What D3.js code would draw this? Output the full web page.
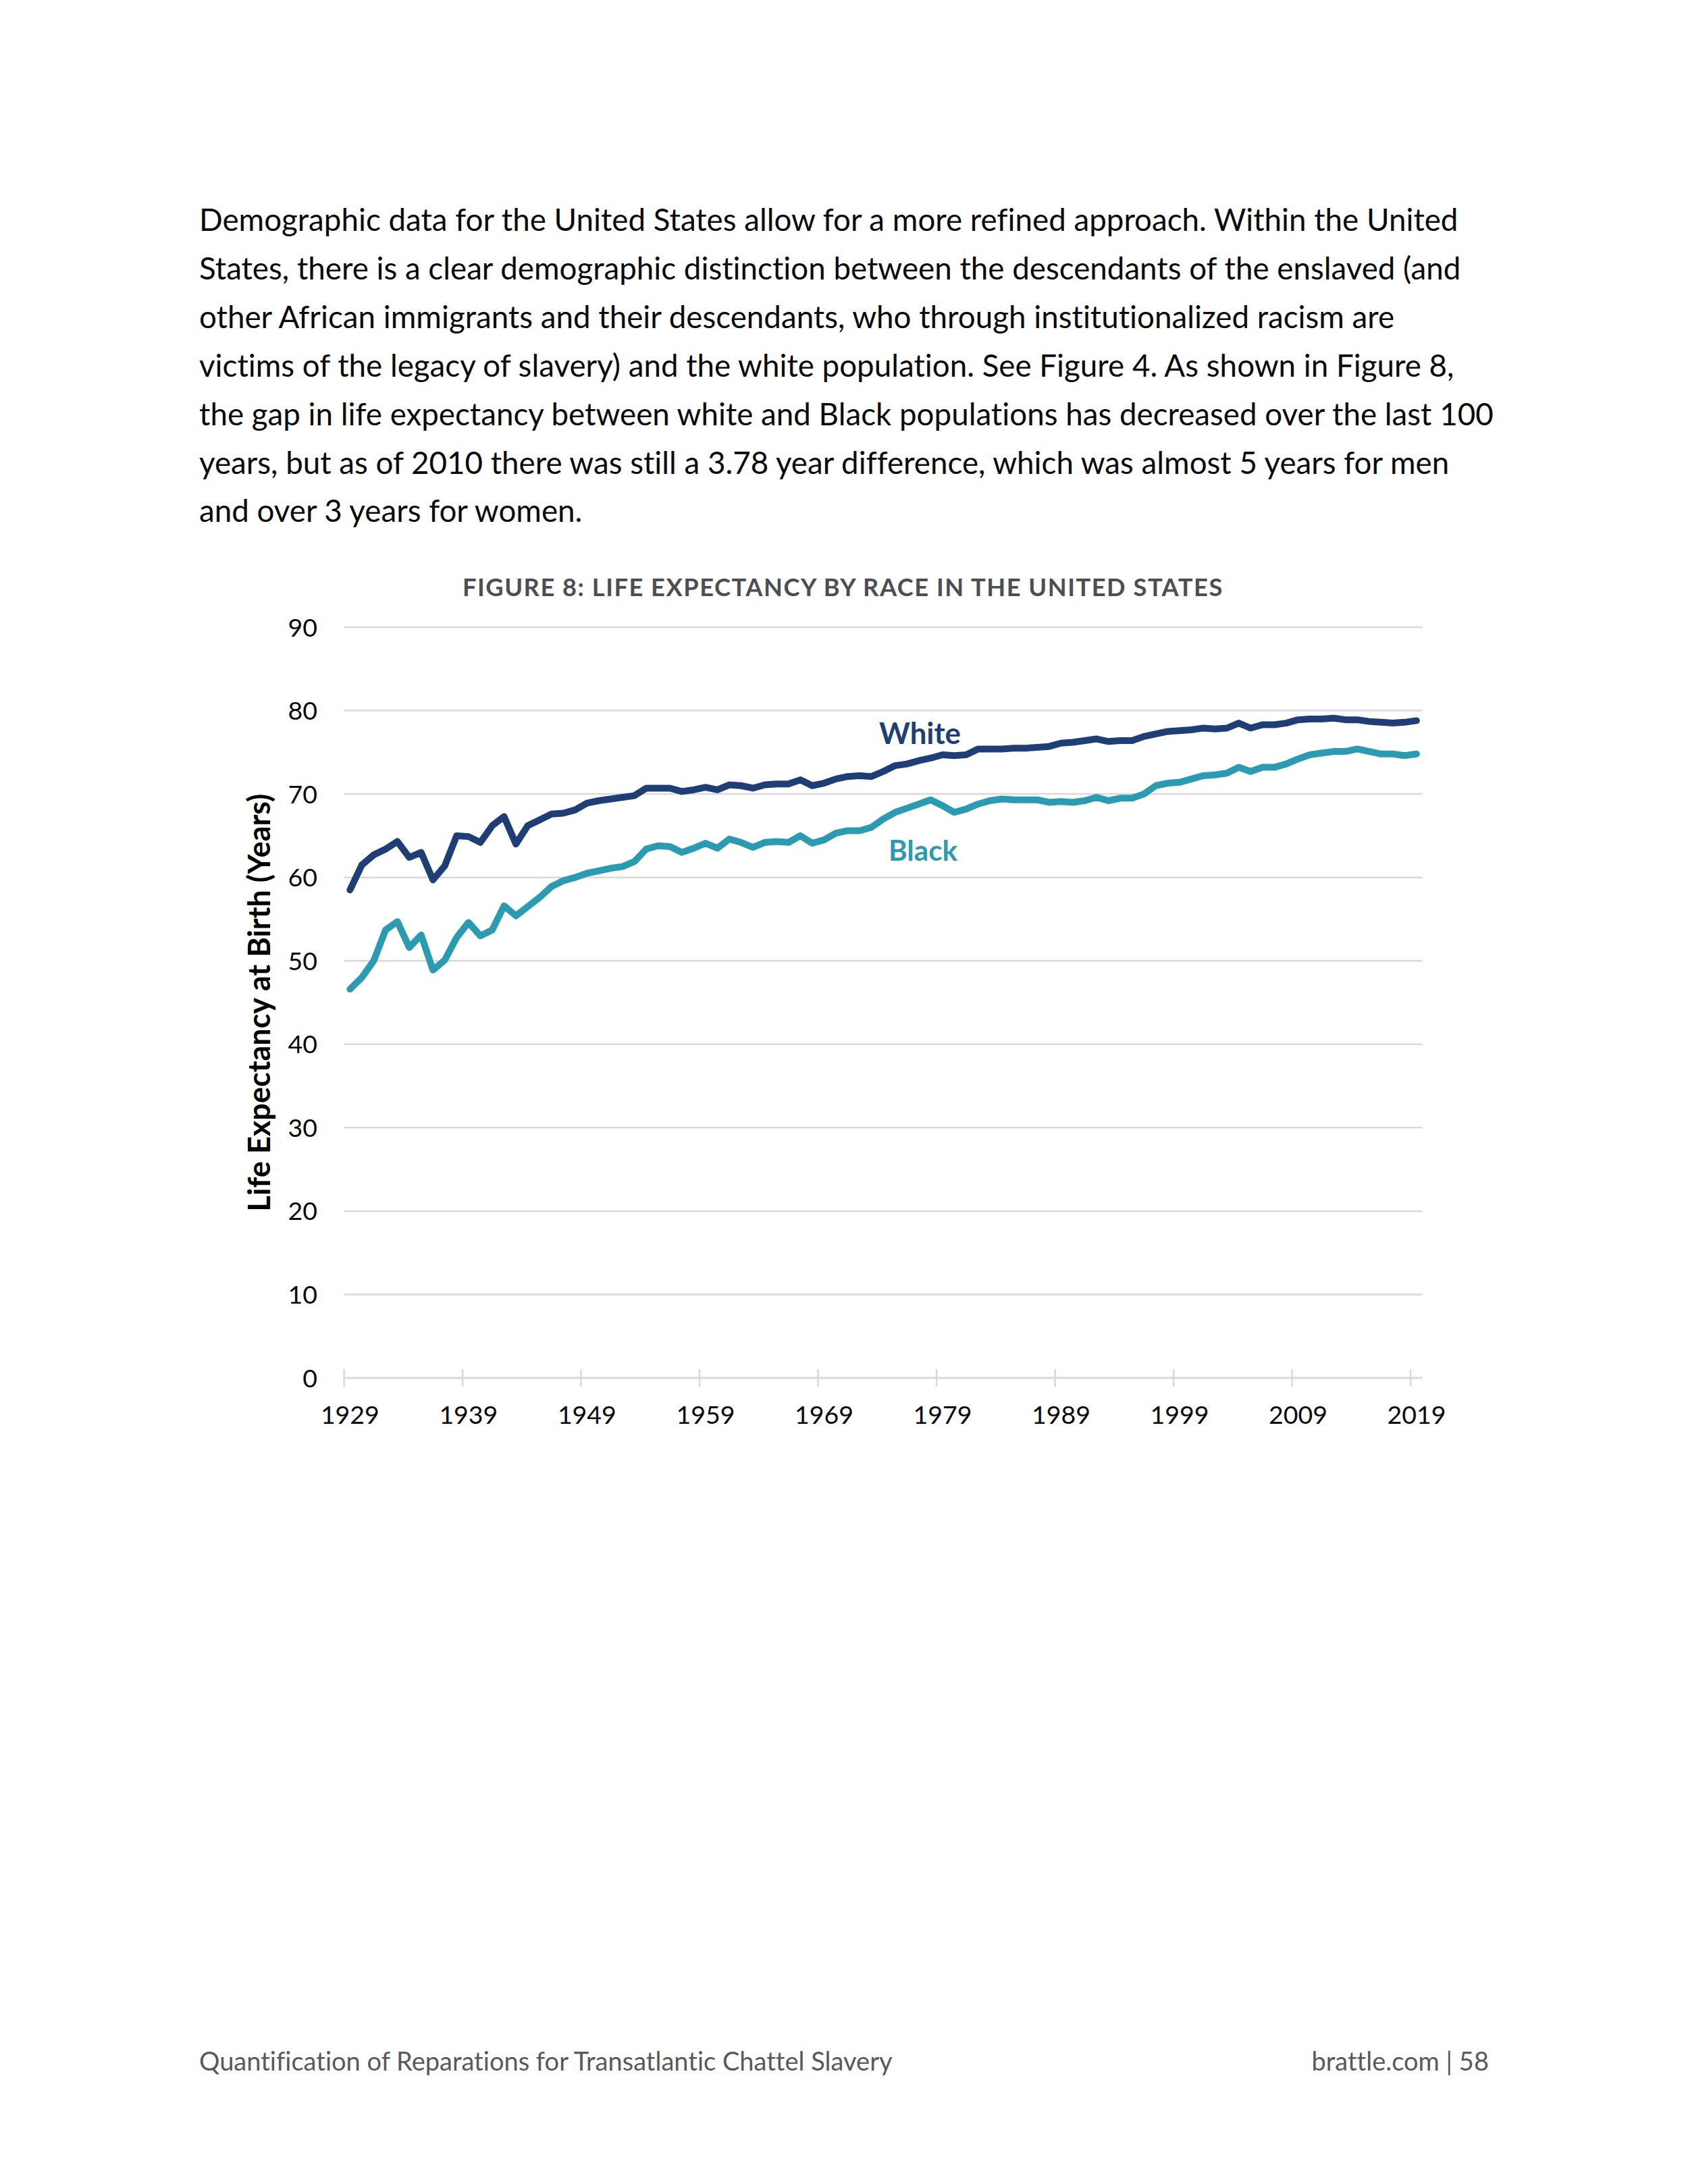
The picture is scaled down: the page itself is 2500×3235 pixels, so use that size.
<!DOCTYPE html>
<html>
<head>
<meta charset="utf-8">
<script src="https://cdn.jsdelivr.net/npm/d3@7"></script>
<style>
html,body{margin:0;padding:0;background:#fff;}
svg{display:block;}
text{font-variant-ligatures:none;font-feature-settings:"liga" 0,"dlig" 0;}
</style>
</head>
<body>
<script>
// ---------------- DATA ----------------
const years = d3.range(1929, 2020);
const tickYears = [1929, 1939, 1949, 1959, 1969, 1979, 1989, 1999, 2009, 2019];
const yTicks = [0, 10, 20, 30, 40, 50, 60, 70, 80, 90];
const whiteLE = [
  58.5, 61.5, 62.7, 63.4, 64.3, 62.4, 63.0, 59.7, 61.4, 65.0,
  64.9, 64.2, 66.2, 67.3, 64.0, 66.2, 66.9, 67.6, 67.7, 68.1,
  68.9, 69.2, 69.4, 69.6, 69.8, 70.7, 70.7, 70.7, 70.3, 70.5,
  70.8, 70.5, 71.1, 71.0, 70.7, 71.1, 71.2, 71.2, 71.7, 71.0,
  71.3, 71.8, 72.1, 72.2, 72.1, 72.7, 73.4, 73.6, 74.0, 74.3,
  74.7, 74.6, 74.7, 75.4, 75.4, 75.4, 75.5, 75.5, 75.6, 75.7,
  76.1, 76.2, 76.4, 76.6, 76.3, 76.4, 76.4, 76.9, 77.2, 77.5,
  77.6, 77.7, 77.9, 77.8, 77.9, 78.5, 77.9, 78.3, 78.3, 78.5,
  78.9, 79.0, 79.0, 79.1, 78.9, 78.9, 78.7, 78.6, 78.5, 78.6,
  78.8
];
const blackLE = [
  46.6, 48.0, 50.0, 53.7, 54.7, 51.6, 53.1, 48.9, 50.1, 52.8,
  54.6, 53.0, 53.7, 56.6, 55.4, 56.5, 57.6, 58.9, 59.6, 60.0,
  60.5, 60.8, 61.1, 61.3, 61.9, 63.4, 63.8, 63.7, 63.0, 63.5,
  64.1, 63.5, 64.6, 64.2, 63.6, 64.2, 64.3, 64.2, 65.0, 64.1,
  64.5, 65.3, 65.6, 65.6, 66.0, 67.0, 67.8, 68.3, 68.8, 69.3,
  68.6, 67.8, 68.2, 68.8, 69.2, 69.4, 69.3, 69.3, 69.3, 69.0,
  69.1, 69.0, 69.2, 69.6, 69.2, 69.5, 69.5, 70.0, 71.0, 71.3,
  71.4, 71.8, 72.2, 72.3, 72.5, 73.2, 72.7, 73.2, 73.2, 73.6,
  74.2, 74.7, 74.9, 75.1, 75.1, 75.4, 75.1, 74.8, 74.8, 74.6,
  74.8
];
const seriesNames = ["White", "Black"];
const titleText = "FIGURE 8: LIFE EXPECTANCY BY RACE IN THE UNITED STATES";
const yAxisTitle = "Life Expectancy at Birth (Years)";
const bodyLines = [
  "Demographic data for the United States allow for a more refined approach. Within the United",
  "States, there is a clear demographic distinction between the descendants of the enslaved (and",
  "other African immigrants and their descendants, who through institutionalized racism are",
  "victims of the legacy of slavery) and the white population. See Figure 4. As shown in Figure 8,",
  "the gap in life expectancy between white and Black populations has decreased over the last 100",
  "years, but as of 2010 there was still a 3.78 year difference, which was almost 5 years for men",
  "and over 3 years for women."
];
const footerLeft = "Quantification of Reparations for Transatlantic Chattel Slavery";
const footerRight = "brattle.com | 58";

// ---------------- LAYOUT ----------------
const W = 2500, H = 3235;
const FONT = "Lato, 'Open Sans', sans-serif";
const plot = {left: 509.6, right: 2106.7, top: 929, bottom: 2041};
const colWhite = "#1F3E76", colBlack = "#2A9BB0";

const svg = d3.select("body").append("svg").attr("width", W).attr("height", H)
  .attr("viewBox", `0 0 ${W} ${H}`);

function fitWidth(sel, target) {
  const w = sel.node().getComputedTextLength();
  const fs = parseFloat(sel.attr("font-size"));
  const nfs = fs * target / w;
  sel.attr("font-size", nfs);
  return nfs;
}

// body text
const bodyG = svg.append("g");
const first = bodyG.append("text").attr("x", 295).attr("y", 342)
  .attr("font-family", FONT).attr("font-size", 40).attr("fill", "#0a0a0a")
  .text(bodyLines[0]);
const bodyFs = fitWidth(first, 1865);
bodyLines.slice(1).forEach((t, i) => {
  bodyG.append("text").attr("x", 295).attr("y", 342 + (i + 1) * 71.9)
    .attr("font-family", FONT).attr("font-size", bodyFs).attr("fill", "#0a0a0a").text(t);
});

// title
const title = svg.append("text").attr("x", 685).attr("y", 883)
  .attr("font-family", FONT).attr("font-weight", 700).attr("font-size", 36)
  .attr("letter-spacing", 1.5).attr("fill", "#4B4F55").text(titleText);
fitWidth(title, 1128);

// scales
const x = d3.scaleBand().domain(years).range([plot.left, plot.right]).padding(0);
const bw = x.bandwidth();
const y = d3.scaleLinear().domain([0, 90]).range([plot.bottom, plot.top]);

// gridlines
svg.append("g").selectAll("line").data(yTicks.filter(d => d > 0)).join("line")
  .attr("x1", plot.left).attr("x2", plot.right)
  .attr("y1", d => y(d)).attr("y2", d => y(d))
  .attr("stroke", "#D9D9D9").attr("stroke-width", 2.5);

// x axis line
svg.append("line").attr("x1", plot.left).attr("x2", plot.right)
  .attr("y1", y(0)).attr("y2", y(0)).attr("stroke", "#D9D9D9").attr("stroke-width", 3);

// x ticks (at category boundaries)
svg.append("g").selectAll("line").data(tickYears).join("line")
  .attr("x1", d => x(d)).attr("x2", d => x(d))
  .attr("y1", y(0) - 13).attr("y2", y(0) + 13)
  .attr("stroke", "#D9D9D9").attr("stroke-width", 2.5);

// x labels
svg.append("g").selectAll("text").data(tickYears).join("text")
  .attr("x", d => x(d) + bw / 2).attr("y", 2109)
  .attr("text-anchor", "middle").attr("font-family", FONT).attr("font-size", 37.5)
  .attr("fill", "#0a0a0a").text(d => d);

// y labels
svg.append("g").selectAll("text").data(yTicks).join("text")
  .attr("x", 470).attr("y", d => y(d)).attr("dy", "0.36em")
  .attr("text-anchor", "end").attr("font-family", FONT).attr("font-size", 37.5)
  .attr("fill", "#0a0a0a").text(d => d);

// y axis title
const yt = svg.append("text")
  .attr("transform", `translate(400,1485) rotate(-90)`)
  .attr("text-anchor", "middle").attr("font-family", FONT).attr("font-weight", 700)
  .attr("font-size", 38).attr("fill", "#000").text(yAxisTitle);
fitWidth(yt, 619);

// lines
const line = d3.line().x((d, i) => x(years[i]) + bw / 2).y(d => y(d));
[[whiteLE, colWhite], [blackLE, colBlack]].forEach(([vals, c]) => {
  svg.append("path").datum(vals).attr("d", line)
    .attr("fill", "none").attr("stroke", c).attr("stroke-width", 10)
    .attr("stroke-linejoin", "round").attr("stroke-linecap", "round");
});

// series labels
const wl = svg.append("text").attr("x", 1302).attr("y", 1102)
  .attr("font-family", FONT).attr("font-weight", 700).attr("font-size", 44)
  .attr("fill", colWhite).text(seriesNames[0]);
fitWidth(wl, 121);
const bl = svg.append("text").attr("x", 1316).attr("y", 1275)
  .attr("font-family", FONT).attr("font-weight", 700).attr("font-size", 44)
  .attr("fill", colBlack).text(seriesNames[1]);
fitWidth(bl, 102);

// footer
const fl = svg.append("text").attr("x", 295).attr("y", 3067)
  .attr("font-family", FONT).attr("font-size", 36).attr("fill", "#595959").text(footerLeft);
const footFs = fitWidth(fl, 1027);
svg.append("text").attr("x", 2205).attr("y", 3067).attr("text-anchor", "end")
  .attr("font-family", FONT).attr("font-size", footFs).attr("fill", "#595959").text(footerRight);
</script>
</body>
</html>
